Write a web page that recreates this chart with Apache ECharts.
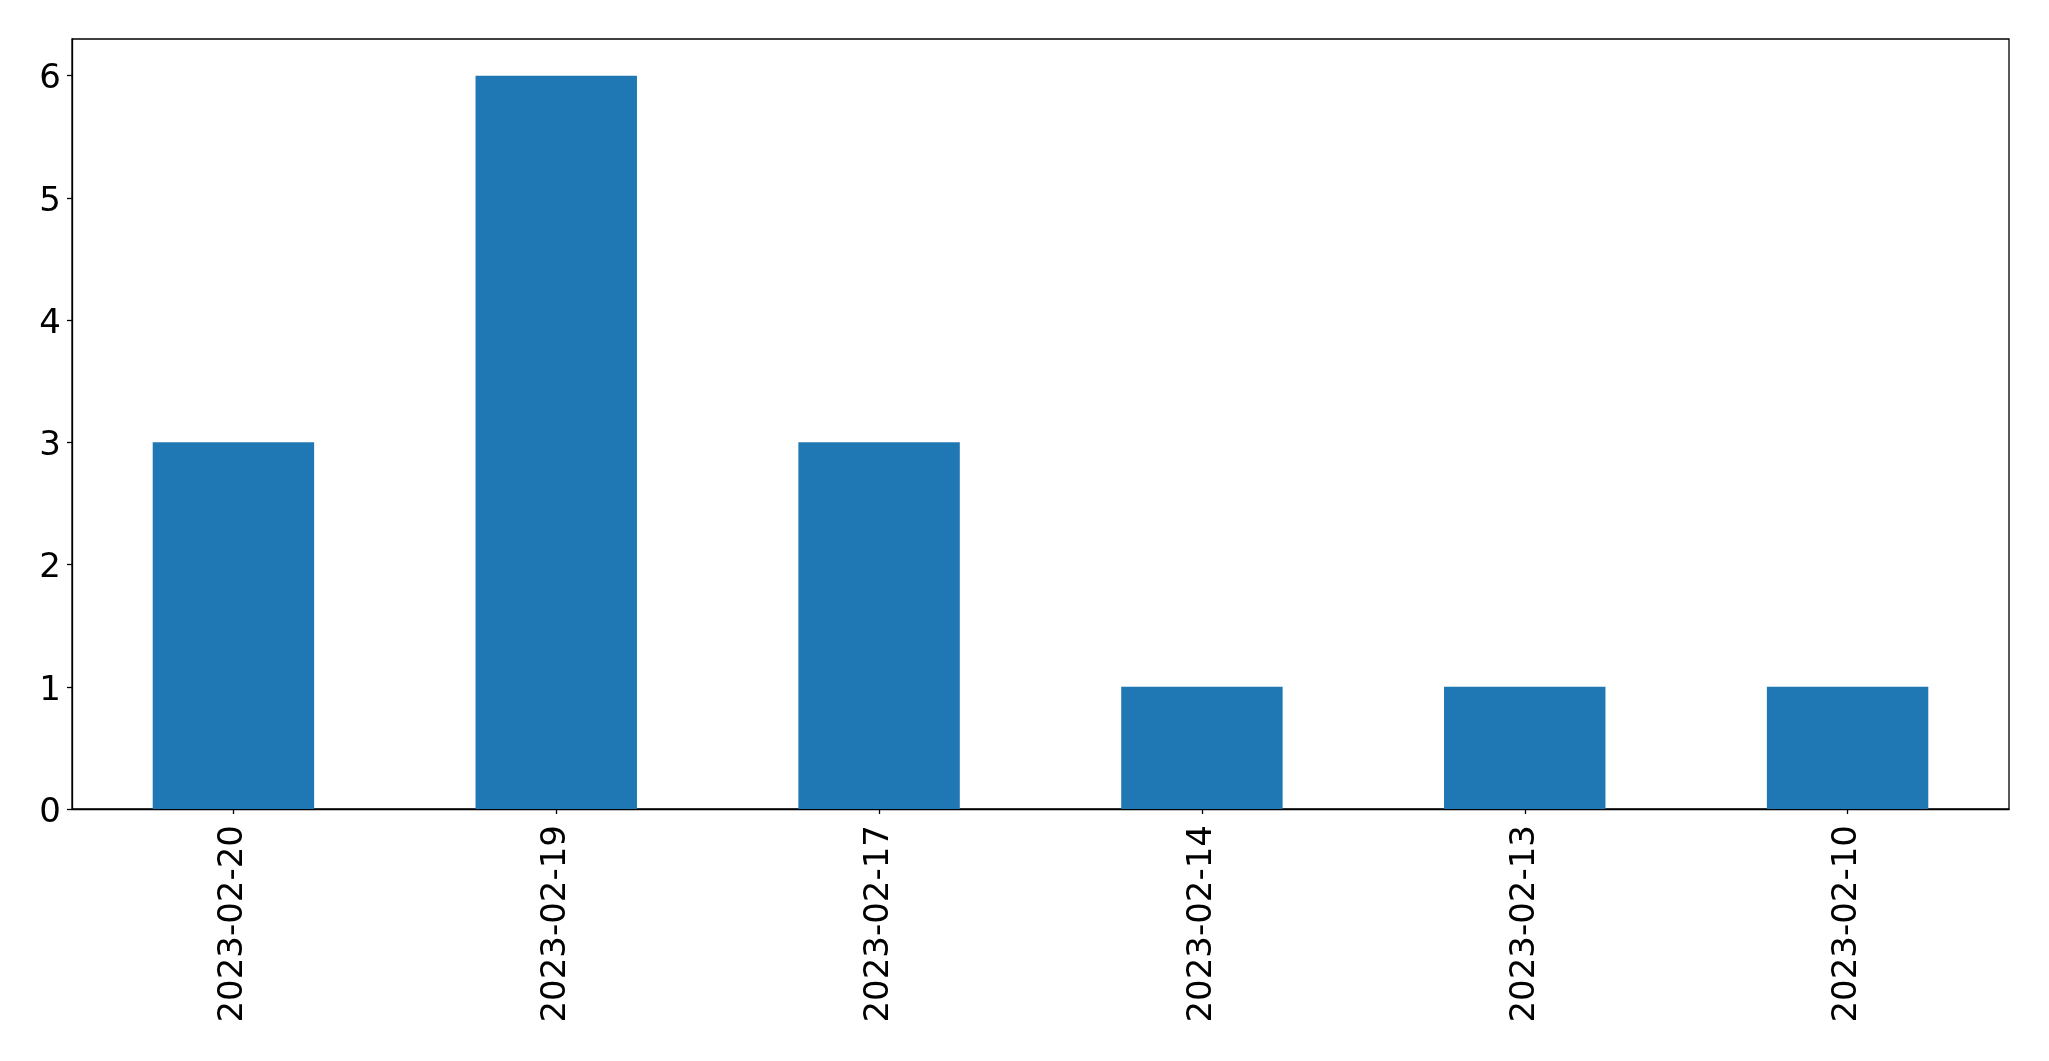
<!DOCTYPE html>
<html>
<head>
<meta charset="utf-8">
<script src="https://cdn.jsdelivr.net/npm/echarts@6/dist/echarts.min.js"></script>
<style>
html,body{margin:0;padding:0;background:#fff;}
#c{width:2049px;height:1061px;}
</style>
</head>
<body>
<div id="c"></div>
<script>
const categories = ['2023-02-20','2023-02-19','2023-02-17','2023-02-14','2023-02-13','2023-02-10'];
const values = [3, 6, 3, 1, 1, 1];
const yTicks = [0, 1, 2, 3, 4, 5, 6];

const chart = echarts.init(document.getElementById('c'), null, {renderer: 'canvas'});
const font = 'DejaVu Sans';
chart.setOption({
  animation: false,
  backgroundColor: '#ffffff',
  grid: {
    left: 72, right: 40, top: 39, bottom: 252,
    show: true, borderColor: '#000', borderWidth: 1.3, backgroundColor: 'transparent'
  },
  xAxis: {
    type: 'category',
    data: categories,
    axisLine: {show: true, lineStyle: {color: '#000', width: 1.3}},
    axisTick: {show: true, alignWithLabel: true, length: 5, lineStyle: {color: '#000', width: 1.3}},
    axisLabel: {rotate: 90, color: '#000', fontFamily: font, fontSize: 34, margin: 16, interval: 0},
    splitLine: {show: false}
  },
  yAxis: {
    type: 'value',
    min: 0, max: 6.3,
    axisLine: {show: true, lineStyle: {color: '#000', width: 1.3}},
    axisTick: {show: true, length: 5, customValues: yTicks, lineStyle: {color: '#000', width: 1.3}},
    axisLabel: {
      color: '#000', fontFamily: font, fontSize: 34, margin: 11, customValues: yTicks,
      formatter: '{a|{value}}',
      rich: {a: {color: '#000', fontFamily: font, fontSize: 34, padding: [8, 0, 0, 0]}}
    },
    splitLine: {show: false}
  },
  series: [{
    type: 'bar',
    data: values,
    barWidth: '50%',
    itemStyle: {color: '#1f77b4'}
  }]
});
</script>
</body>
</html>
